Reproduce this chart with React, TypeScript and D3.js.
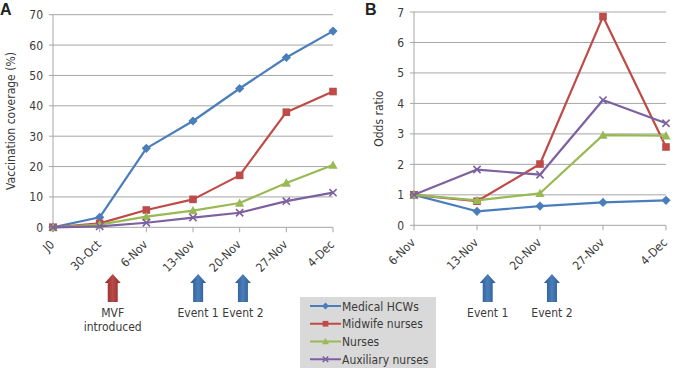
import React from 'react';
import * as d3 from 'd3';

// categories
const weeksA = ['J0', '30-Oct', '6-Nov', '13-Nov', '20-Nov', '27-Nov', '4-Dec'];
const weeksB = ['6-Nov', '13-Nov', '20-Nov', '27-Nov', '4-Dec'];

const groups = ['Medical HCWs', 'Midwife nurses', 'Nurses', 'Auxiliary nurses'];
const colors = ['#4a7ebb', '#be4b48', '#98b954', '#7d60a0'];
const shapes = ['diamond', 'square', 'triangle', 'cross'];

// vaccination coverage (%) per group
const coverageMedical = [0, 3.3, 26.0, 35.0, 45.7, 55.9, 64.6];
const coverageMidwife = [0, 1.3, 5.7, 9.2, 17.1, 37.9, 44.7];
const coverageNurses = [0, 0.9, 3.5, 5.5, 8.0, 14.6, 20.5];
const coverageAuxiliary = [0, 0.3, 1.5, 3.2, 4.8, 8.6, 11.4];

// odds ratios per group
const oddsMedical = [1.0, 0.46, 0.63, 0.75, 0.82];
const oddsMidwife = [1.0, 0.79, 2.01, 6.85, 2.57];
const oddsNurses = [1.0, 0.82, 1.05, 2.96, 2.94];
const oddsAuxiliary = [1.0, 1.83, 1.66, 4.11, 3.35];

const ticksA = [0, 10, 20, 30, 40, 50, 60, 70];
const ticksB = [0, 1, 2, 3, 4, 5, 6, 7];

// event arrows, placed at a fractional week index
const eventsA = [
  { at: 1.28, lines: ['MVF', 'introduced'], kind: 'red' },
  { at: 3.11, lines: ['Event 1'], kind: 'blue' },
  { at: 4.07, lines: ['Event 2'], kind: 'blue' },
];
const eventsB = [
  { at: 1.17, lines: ['Event 1'], kind: 'blue' },
  { at: 2.19, lines: ['Event 2'], kind: 'blue' },
];

const FONT = '"DejaVu Sans Condensed", "DejaVu Sans", Verdana, sans-serif';
const GRID = '#a6a6a6';
const TXT = '#3a3a3a';

function Marker({ shape, x, y, color, s = 1 }: any) {
  if (shape === 'diamond') {
    const r = 4.6 * s;
    return <path d={`M${x},${y - r}L${x + r},${y}L${x},${y + r}L${x - r},${y}Z`} fill={color} />;
  }
  if (shape === 'square') {
    const r = 3.8 * s;
    return <rect x={x - r} y={y - r} width={2 * r} height={2 * r} fill={color} />;
  }
  if (shape === 'triangle') {
    const r = 4.6 * s;
    return <path d={`M${x},${y - r}L${x + r},${y + r * 0.8}L${x - r},${y + r * 0.8}Z`} fill={color} />;
  }
  const r = 3.6 * s;
  return (
    <path d={`M${x - r},${y - r}L${x + r},${y + r}M${x - r},${y + r}L${x + r},${y - r}`}
      stroke={color} strokeWidth={1.6} fill="none" />
  );
}

function Arrow({ x, top, bottom, kind }: any) {
  const hw = 8, sw = 5, hh = 9;
  const d = `M${x},${top}L${x + hw},${top + hh}L${x + sw},${top + hh}L${x + sw},${bottom}` +
    `L${x - sw},${bottom}L${x - sw},${top + hh}L${x - hw},${top + hh}Z`;
  return <path d={d} fill={`url(#grad-${kind})`} />;
}

function Panel({ cats, series, ticks, yMax, x0, x1, yTop, yBottom, title, titleX, letter, letterX, events }: any) {
  const x = d3.scalePoint<number>().domain(d3.range(cats.length)).range([x0, x1]);
  const xi = d3.scaleLinear().domain([0, cats.length - 1]).range([x0, x1]);
  const y = d3.scaleLinear().domain([0, yMax]).range([yBottom, yTop]);
  const line = d3.line<number>().x((_, i) => x(i) as number).y(d => y(d));

  return (
    <g>
      <text x={letterX} y={15} fontFamily="Liberation Sans, Arial, sans-serif" fontWeight="bold" fontSize={16} fill="#222">{letter}</text>
      {ticks.map((t: number) => (
        <g key={t}>
          <line x1={x0 - 4} x2={x1} y1={y(t)} y2={y(t)} stroke={GRID} strokeWidth={1} />
          <text x={x0 - 10} y={y(t) + 4.5} textAnchor="end" fontSize={12} fontFamily={FONT} fill={TXT}>{t}</text>
        </g>
      ))}
      <line x1={x0} x2={x0} y1={yTop} y2={yBottom} stroke={GRID} />
      {cats.map((c: string, i: number) => (
        <g key={c}>
          <line x1={x(i)} x2={x(i)} y1={yBottom} y2={yBottom + 5} stroke={GRID} />
          <text transform={`translate(${(x(i) as number) + 2},${yBottom + 18}) rotate(-45)`}
            textAnchor="end" fontSize={12} fontFamily={FONT} fill={TXT}>{c}</text>
        </g>
      ))}
      <text transform={`translate(${titleX},${(yTop + yBottom) / 2}) rotate(-90)`} textAnchor="middle"
        fontSize={12} fontFamily={FONT} fill={TXT}>{title}</text>
      {series.map((vals: number[], k: number) => (
        <g key={k}>
          <path d={line(vals) as string} fill="none" stroke={colors[k]} strokeWidth={2.2} strokeLinejoin="round" />
          {vals.map((v, i) => <Marker key={i} shape={shapes[k]} x={x(i)} y={y(v)} color={colors[k]} />)}
        </g>
      ))}
      {events.map((e: any, j: number) => (
        <g key={j}>
          <Arrow x={xi(e.at)} top={274} bottom={302} kind={e.kind} />
          {e.lines.map((l: string, n: number) => (
            <text key={n} x={xi(e.at)} y={317 + n * 14} textAnchor="middle"
              fontSize={12} fontFamily={FONT} fill={TXT}>{l}</text>
          ))}
        </g>
      ))}
    </g>
  );
}

export default function App() {
  const legendY = d3.scaleBand<number>().domain(d3.range(groups.length)).range([297, 368]);
  return (
    <svg width={676} height={368} style={{ position: 'absolute', left: 0, top: 0, background: '#fff' }}>
      <defs>
        <linearGradient id="grad-red" x1="0" x2="1" y1="0" y2="0">
          <stop offset="0" stopColor="#8c2b28" />
          <stop offset="0.5" stopColor="#b94a47" />
          <stop offset="1" stopColor="#8c2b28" />
        </linearGradient>
        <linearGradient id="grad-blue" x1="0" x2="1" y1="0" y2="0">
          <stop offset="0" stopColor="#2a568c" />
          <stop offset="0.5" stopColor="#4a7ebb" />
          <stop offset="1" stopColor="#2a568c" />
        </linearGradient>
      </defs>
      <Panel cats={weeksA} series={[coverageMedical, coverageMidwife, coverageNurses, coverageAuxiliary]}
        ticks={ticksA} yMax={70} x0={53} x1={333} yTop={14.7} yBottom={227.3}
        title="Vaccination coverage (%)" titleX={15} letter="A" letterX={0} events={eventsA} />
      <Panel cats={weeksB} series={[oddsMedical, oddsMidwife, oddsNurses, oddsAuxiliary]}
        ticks={ticksB} yMax={7} x0={414} x1={666} yTop={12} yBottom={225.3}
        title="Odds ratio" titleX={383} letter="B" letterX={365} events={eventsB} />
      <rect x={300} y={297} width={136} height={80} fill="#d9d9d9" />
      {groups.map((g, k) => {
        const cy = (legendY(k) as number) + 9;
        return (
          <g key={g}>
            <line x1={310} x2={341} y1={cy} y2={cy} stroke={colors[k]} strokeWidth={2} />
            <Marker shape={shapes[k]} x={325.5} y={cy} color={colors[k]} s={0.75} />
            <text x={342} y={cy + 4.5} fontSize={12} fontFamily={FONT} fill={TXT}>{g}</text>
          </g>
        );
      })}
    </svg>
  );
}
